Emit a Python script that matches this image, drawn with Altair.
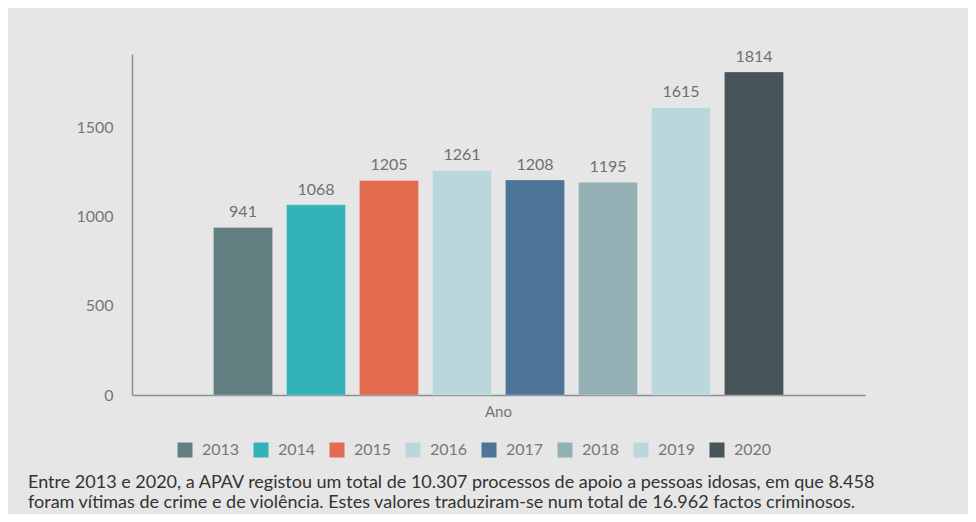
import altair as alt
import pandas as pd

years = ["2013", "2014", "2015", "2016", "2017", "2018", "2019", "2020"]
values = [941, 1068, 1205, 1261, 1208, 1195, 1615, 1814]
colors = ["#637e80", "#33b3b8", "#e36b4f", "#bad7dc", "#4e7598", "#95b0b4", "#bad7dc", "#47545a"]
category = "Ano"
caption = [
    "Entre 2013 e 2020, a APAV registou um total de 10.307 processos de apoio a pessoas idosas, em que 8.458",
    "foram vítimas de crime e de violência. Estes valores traduziram-se num total de 16.962 factos criminosos.",
]

df = pd.DataFrame({"cat": [category] * len(years), "year": years, "value": values})

x = alt.X("cat:N", scale=alt.Scale(paddingOuter=0.1276, paddingInner=0),
          axis=alt.Axis(title=None, labelAngle=0, ticks=False, labelPadding=9,
                        labelFontSize=15, labelColor="#777777", labelFont="Lato",
                        domainColor="#8a8f94", domainWidth=1.5))
xo = alt.XOffset("year:N", sort=years, scale=alt.Scale(paddingInner=0.19, paddingOuter=0.095))
y = alt.Y("value:Q", scale=alt.Scale(domain=[0, 1915], nice=False),
          axis=alt.Axis(values=[0, 500, 1000, 1500], format="d", title=None, grid=False, ticks=False,
                        labelPadding=19, labelFontSize=16, labelColor="#777777", labelFont="Lato",
                        domainColor="#8a8f94", domainWidth=1.5))

bars = alt.Chart(df).mark_bar(stroke="#ffffff", strokeOpacity=0.25, strokeWidth=1).encode(
    x=x, xOffset=xo, y=y,
    color=alt.Color("year:N", sort=years, scale=alt.Scale(domain=years, range=colors),
                    legend=alt.Legend(orient="none", legendX=45, legendY=388, direction="horizontal",
                                      title=None, symbolType="square", symbolSize=225,
                                      symbolStrokeWidth=0, labelFontSize=16, labelColor="#777777",
                                      labelFont="Lato", columnPadding=13, labelOffset=9, padding=0)),
)
labels = alt.Chart(df).mark_text(dy=-7, baseline="bottom", fontSize=16, color="#707070", font="Lato").encode(
    x=x, xOffset=xo, y=y, text="value:Q"
)

chart = alt.layer(bars, labels).properties(
    width=733, height=341,
    autosize=alt.AutoSizeParams(type="none"),
    padding={"left": 124, "top": 46, "right": 103, "bottom": 119},
    background="#e6e6e6",
    title=alt.TitleParams(text=caption, orient="bottom", anchor="start", frame="group",
                          baseline="top", offset=16, dx=-104, fontSize=18, lineHeight=19.5,
                          font="Lato", fontWeight="normal", color="#333333"),
).configure_view(stroke=None)

chart.save("out.html", embed_options={"renderer": "svg", "actions": False})
